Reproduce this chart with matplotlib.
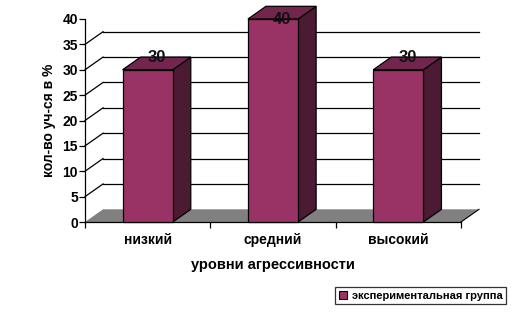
import matplotlib
matplotlib.use('Agg')
import matplotlib.pyplot as plt
from matplotlib.patches import Polygon, Patch

plt.rcParams['font.family'] = ['Liberation Sans', 'DejaVu Sans']

# данные
categories = ['низкий', 'средний', 'высокий']
values = [30, 40, 30]
series_name = 'экспериментальная группа'
y_ticks = [0, 5, 10, 15, 20, 25, 30, 35, 40]

# глубина 3D-эффекта (в единицах осей)
DX = 0.144
DY = 2.5
BAR_W = 0.4

front_c = '#993366'
side_c = '#4d1a33'
top_c = '#73264d'

fig = plt.figure(figsize=(5.15, 3.2), dpi=100)
ax = fig.add_axes([85 / 515, (320 - 222) / 320, 376 / 515, 203 / 320])
ax.set_xlim(0, len(categories))
ax.set_ylim(0, 40)

# пол
ncat = len(categories)
floor = Polygon([(0, 0), (ncat, 0), (ncat + DX, DY), (DX, DY)], closed=True,
                facecolor='#808080', edgecolor='none', clip_on=False, zorder=1)
ax.add_patch(floor)
ax.plot([ncat, ncat + DX], [0, DY], color='black', lw=0.8, clip_on=False, zorder=2)

# линии сетки на задней стенке
for v in y_ticks[1:-1]:
    ax.plot([DX, ncat + DX], [v + DY, v + DY], color='black', lw=0.9, clip_on=False, zorder=1)
    ax.plot([0, DX], [v, v + DY], color='black', lw=0.9, clip_on=False, zorder=1)

# столбцы
for i, v in enumerate(values):
    x0 = i + 0.5 - BAR_W / 2
    x1 = i + 0.5 + BAR_W / 2
    side = Polygon([(x1, 0), (x1 + DX, DY), (x1 + DX, v + DY), (x1, v)], closed=True,
                   facecolor=side_c, edgecolor='black', lw=0.9, clip_on=False, zorder=3)
    top = Polygon([(x0, v), (x1, v), (x1 + DX, v + DY), (x0 + DX, v + DY)], closed=True,
                  facecolor=top_c, edgecolor='black', lw=0.9, clip_on=False, zorder=3)
    front = Polygon([(x0, 0), (x1, 0), (x1, v), (x0, v)], closed=True,
                    facecolor=front_c, edgecolor='black', lw=0.9, clip_on=False, zorder=4)
    ax.add_patch(side)
    ax.add_patch(top)
    ax.add_patch(front)
    ax.text(i + 0.5 + DX / 2, min(v + DY, 40), str(v), ha='center', va='center',
            fontsize=12, fontweight='bold', color='#111111', zorder=5)

# оси
for s in ['top', 'right']:
    ax.spines[s].set_visible(False)
ax.spines['left'].set_linewidth(0.9)
ax.spines['bottom'].set_linewidth(0.9)
ax.set_facecolor('none')

ax.set_yticks(y_ticks)
ax.set_yticklabels([str(t) for t in y_ticks], fontsize=10, fontweight='bold')
ax.tick_params(axis='y', length=4, width=0.9, pad=1)

ax.set_xticks(range(ncat + 1))
ax.set_xticklabels([])
ax.set_xticks([i + 0.5 for i in range(ncat)], minor=True)
ax.set_xticklabels(categories, minor=True, fontsize=10, fontweight='bold')
ax.tick_params(axis='x', which='major', length=4, width=0.9)
ax.tick_params(axis='x', which='minor', length=0, pad=8)

ax.set_ylabel('кол-во уч-ся в %', fontsize=10, fontweight='bold', labelpad=5)
ax.set_xlabel('уровни агрессивности', fontsize=10.5, fontweight='bold', labelpad=8)

# легенда
leg = fig.legend(handles=[Patch(facecolor=front_c, edgecolor='black', lw=0.8, label=series_name)],
                 loc='lower right', bbox_to_anchor=(506 / 515, (320 - 304) / 320),
                 fontsize=8, frameon=True, fancybox=False, handlelength=0.8, handleheight=0.8,
                 handletextpad=0.4, borderpad=0.3, borderaxespad=0)
leg.get_frame().set_edgecolor('black')
leg.get_frame().set_linewidth(0.9)
for t in leg.get_texts():
    t.set_fontweight('bold')

fig.savefig('out.png', dpi=100)
